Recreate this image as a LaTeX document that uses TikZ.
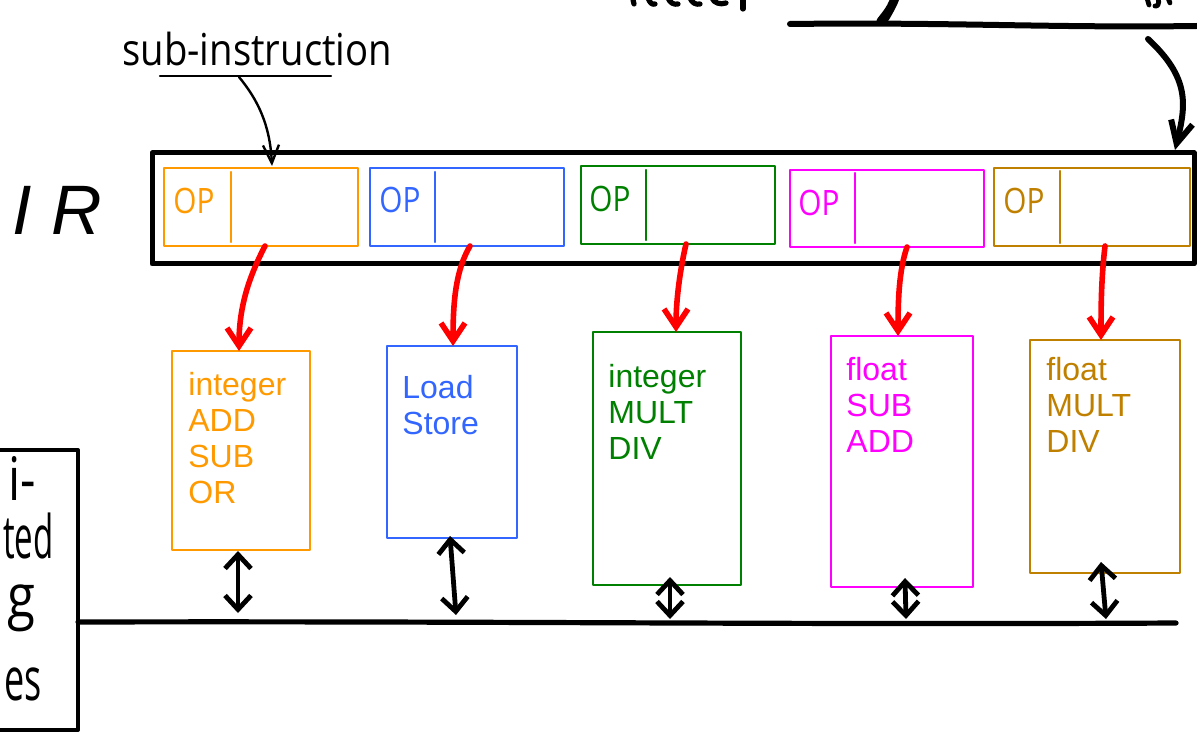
\documentclass[tikz,border=0pt]{standalone}
\usepackage{fontspec}
\setmainfont{Liberation Sans}
\newfontfamily\hand{Open Sans}
\usetikzlibrary{arrows.meta,calc}
\definecolor{cOrange}{RGB}{255,153,0}
\definecolor{cBlue}{RGB}{51,102,255}
\definecolor{cGreen}{RGB}{0,128,0}
\definecolor{cMag}{RGB}{255,0,255}
\definecolor{cGold}{RGB}{191,128,0}
\definecolor{cRed}{RGB}{255,0,0}
\begin{document}
\begin{tikzpicture}[x=0.5pt,y=-0.5pt,line cap=round,line join=round,
  regbox/.style={draw,line width=2.5pt,anchor=north west,inner sep=0,outer sep=0},
  slot/.style={draw,line width=1.3pt,anchor=north west,inner sep=0,outer sep=0},
  divider/.style={line width=1.2pt},
  unitbox/.style={draw,line width=1.3pt,anchor=north west,inner sep=0,outer sep=0},
  unittext/.style={anchor=base west,align=left,inner sep=0,font=\fontsize{16}{18}\selectfont},
  optext/.style={anchor=base west,inner sep=0,font=\hand\fontsize{17.5}{17.5}\selectfont},
  handtext/.style={inner sep=0,font=\hand\fontsize{22}{22}\selectfont},
  rftext/.style={inner sep=0,anchor=base east,font=\hand\fontsize{30}{30}\selectfont},
  feed/.style={cRed,line width=2.8pt,-{Straight Barb[length=9pt,width=12pt]}},
  port/.style={line width=2.4pt,{Straight Barb[length=7pt,width=13pt]}-{Straight Barb[length=7pt,width=13pt]}},
  thinarrow/.style={line width=1.2pt,-{Straight Barb[length=9pt,width=8pt]}},
  thickarrow/.style={line width=3pt,-{Straight Barb[length=11pt,width=11pt]}}]
\useasboundingbox (0,0) rectangle (1197,732);
\clip (0,0) rectangle (1197,732);

% instruction register
\node[regbox,minimum width=521pt,minimum height=55.5pt] (ir) at (152,153) {};
\node[anchor=base west,inner sep=0,font=\fontsize{35}{35}\selectfont\itshape] (irlabel) at (12,235) {I R};

% slots
\node[slot,cOrange,minimum width=97pt,minimum height=39pt] (s1) at (164,168) {};
\node[slot,cBlue,minimum width=97pt,minimum height=39pt] (s2) at (370,168) {};
\node[slot,cGreen,minimum width=97pt,minimum height=39pt] (s3) at (581,166) {};
\node[slot,cMag,minimum width=97pt,minimum height=38.5pt] (s4) at (790,170) {};
\node[slot,cGold,minimum width=98pt,minimum height=39pt] (s5) at (994,168) {};
\draw[divider,cOrange] (231,172) -- (231,242);
\draw[divider,cBlue] (435,172) -- (435,242);
\draw[divider,cGreen] (646,170) -- (646,240);
\draw[divider,cMag] (855,173) -- (855,243);
\draw[divider,cGold] (1060,171) -- (1060,243);
\node[optext,cOrange] (op1) at (173,214) {\scalebox{0.85}[1]{OP}};
\node[optext,cBlue] (op2) at (379,213) {\scalebox{0.85}[1]{OP}};
\node[optext,cGreen] (op3) at (589,212) {\scalebox{0.85}[1]{OP}};
\node[optext,cMag] (op4) at (798,216) {\scalebox{0.85}[1]{OP}};
\node[optext,cGold] (op5) at (1003,214) {\scalebox{0.85}[1]{OP}};

% sub-instruction label
\node[handtext,anchor=base west] (sublabel) at (122,66) {\scalebox{0.87}[1]{sub-instruction}};
\draw[line width=1.1pt] (160,76) -- (331,76);
\coordinate (ulpt) at (239,77);
\draw[thinarrow] (ulpt) .. controls (258,100) and (270,125) .. ($(s1.north)+(11,-2)$);

% top fetch line and arrow
\draw[line width=3pt] (790,24) .. controls (950,22) and (1050,28) .. (1197,26);
\coordinate (fetchpt) at (1148,39);
\draw[thickarrow] (fetchpt) .. controls (1190,78) and (1186,105) .. ($(ir.north east)+(-19,-3)$);
% cut-off handwriting at the top edge
\draw[line width=2.6pt] (633,0) -- (634,4);
\draw[line width=2.6pt] (648,-2) .. controls (650,3) and (652,5) .. (655,4);
\draw[line width=2.6pt] (668,-2) .. controls (670,3) and (674,5) .. (678,4);
\draw[line width=2.6pt] (690,-2) .. controls (692,3) and (696,5) .. (700,4);
\draw[line width=2.6pt] (712,-2) .. controls (714,3) and (720,5) .. (726,3);
\draw[line width=2.6pt] (743,-2) -- (743,9);
\draw[line width=2.6pt] (893,-2) .. controls (889,10) and (882,16) .. (879,21) .. controls (878,25) and (884,23) .. (887,18) .. controls (891,11) and (895,4) .. (897,-2);
\draw[line width=2.4pt] (1147,-2) -- (1149,5);
\draw[line width=2.4pt] (1158,-2) .. controls (1160,4) and (1157,7) .. (1155,6);
\draw[line width=2.4pt] (1168,-2) -- (1170,3);

% functional units
\node[unitbox,cOrange,minimum width=69pt,minimum height=99.5pt] (u1) at (172,351) {};
\node[unitbox,cBlue,minimum width=65pt,minimum height=96pt] (u2) at (387,346) {};
\node[unitbox,cGreen,minimum width=74pt,minimum height=126.5pt] (u3) at (593,332) {};
\node[unitbox,cMag,minimum width=71pt,minimum height=125.5pt] (u4) at (831,336) {};
\node[unitbox,cGold,minimum width=75pt,minimum height=116.5pt] (u5) at (1030,340) {};
% (anchor is the baseline of the last line)
\node[unittext,cOrange] (t1) at (188,503) {integer\\ADD\\SUB\\OR};
\node[unittext,cBlue] (t2) at (402,434) {Load\\Store};
\node[unittext,cGreen] (t3) at (608,459) {integer\\MULT\\DIV};
\node[unittext,cMag] (t4) at (846,452) {float\\SUB\\ADD};
\node[unittext,cGold] (t5) at (1046,452) {float\\MULT\\DIV};

% red dispatch arrows
\draw[feed] ($(s1.south)+(4,0)$) .. controls (250,275) and (239,305) .. ($(u1.north)+(-2,0)$);
\draw[feed] ($(s2.south)+(3,0)$) .. controls (456,270) and (453,300) .. ($(u2.north)+(1,0)$);
\draw[feed] ($(s3.south)+(8,0)$) .. controls (680,270) and (676,300) .. ($(u3.north)+(9,0)$);
\draw[feed] ($(s4.south)+(20,0)$) .. controls (899,270) and (898,300) .. ($(u4.north)+(-4,0)$);
\draw[feed] ($(s5.south)+(13,0)$) .. controls (1101,280) and (1101,310) .. ($(u5.north)+(-4,0)$);

% register file box (cut off at the left edge)
\node[draw,line width=2pt,anchor=north east,inner sep=0,outer sep=0,minimum width=60pt,minimum height=140pt] (rf) at (78,450) {};
\node[rftext] (rf1) at (36,500) {\scalebox{0.8}[1]{i-}};
\node[rftext] (rf2) at (54,558) {\scalebox{0.55}[1]{ted}};
\node[rftext] (rf3) at (36,617) {\scalebox{0.85}[1]{g}};
\node[rftext] (rf4) at (42,700) {\scalebox{0.6}[1]{es}};

% bus
\coordinate (busL) at (78,622);
\coordinate (busR) at (1176,623);
\draw[line width=2.6pt] (busL) .. controls (500,621) and (800,625) .. (busR);

% ports to bus
\draw[port] ($(u1.south)+(-3,1)$) -- ($(busL)+(160,-9)$);
\draw[port] ($(u2.south)+(-2,-2)$) -- ($(busL)+(378,-7)$);
\draw[port] ($(u3.south)+(3,-8)$) -- ($(busL)+(592,-3)$);
\draw[port] ($(u4.south)+(3,-9)$) -- ($(busL)+(828,-3)$);
\draw[port] ($(u5.south)+(-4,-11)$) -- ($(busL)+(1028,-3)$);
\end{tikzpicture}
\end{document}
